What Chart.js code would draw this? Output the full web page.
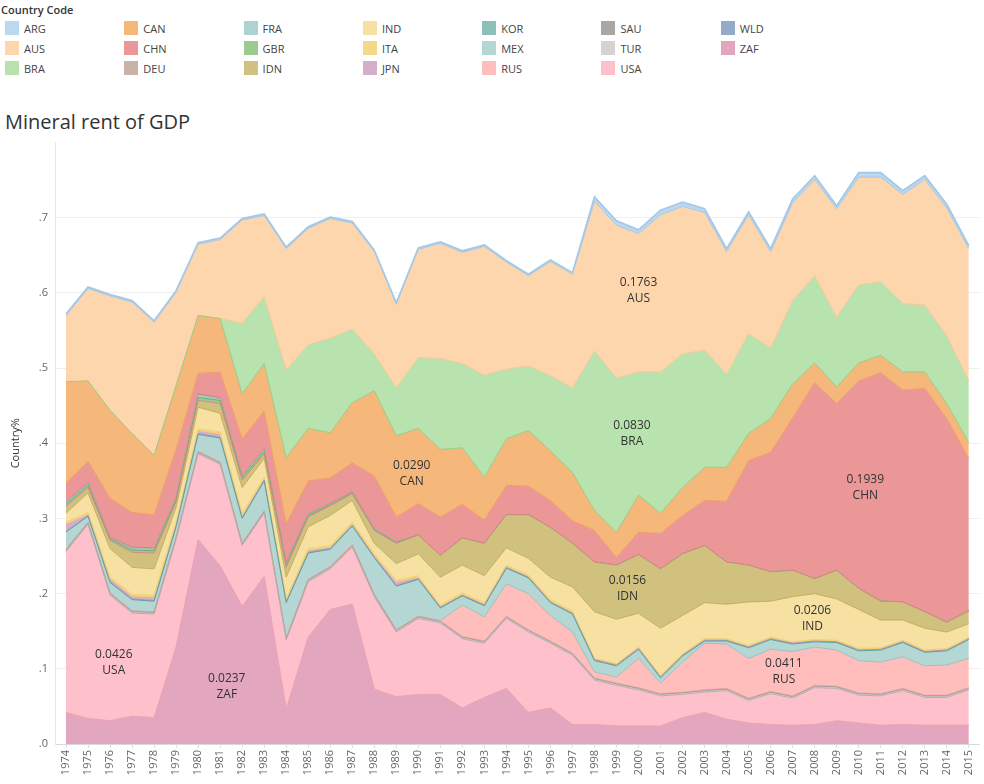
<!DOCTYPE html>
<html><head><meta charset="utf-8">
<script src="https://cdn.jsdelivr.net/npm/chart.js@4.4.1/dist/chart.umd.min.js"></script>
<style>
html,body{margin:0;padding:0;background:#fff;width:984px;height:784px;overflow:hidden;font-family:"Open Sans",sans-serif;}
#legendTitle{position:absolute;left:1px;top:2px;font-size:11px;color:#333;font-weight:600;}
#legend{position:absolute;left:5px;top:18px;display:grid;grid-template-rows:repeat(3,20px);grid-auto-flow:column;grid-auto-columns:119.3px;}
.item{display:flex;align-items:center;font-size:11px;color:#444;}
.sw{width:14px;height:14px;margin-right:5px;flex:none;}
#title{position:absolute;left:5px;top:108px;font-size:20px;color:#333;white-space:nowrap;}
#wrap{position:absolute;left:0;top:129px;width:984px;height:655px;}
</style></head><body>
<div id="legendTitle">Country Code</div>
<div id="legend"></div>
<div id="title">Mineral rent of GDP</div>
<div id="wrap"><canvas id="c" width="984" height="655"></canvas></div>
<script>
const years = ['1974','1975','1976','1977','1978','1979','1980','1981','1982','1983','1984','1985','1986','1987','1988','1989','1990','1991','1992','1993','1994','1995','1996','1997','1998','1999','2000','2001','2002','2003','2004','2005','2006','2007','2008','2009','2010','2011','2012','2013','2014','2015'];

const ZAF = [0.041,0.033,0.030,0.036,0.034,0.128,0.271,0.236,0.182,0.222,0.045,0.141,0.178,0.185,0.072,0.062,0.065,0.065,0.047,0.061,0.073,0.041,0.047,0.025,0.025,0.023,0.023,0.023,0.034,0.041,0.032,0.027,0.025,0.024,0.025,0.030,0.027,0.024,0.025,0.024,0.024,0.024];
const WLD = [0.001,0.001,0.001,0.001,0.001,0.001,0.001,0.001,0.001,0.001,0.001,0.001,0.001,0.001,0.001,0.001,0.001,0.001,0.001,0.001,0.001,0.001,0.001,0.001,0.001,0.001,0.001,0.001,0.001,0.001,0.001,0.001,0.001,0.001,0.001,0.001,0.001,0.001,0.001,0.001,0.001,0.001];
const USA = [0.214,0.258,0.167,0.137,0.138,0.143,0.114,0.135,0.081,0.084,0.092,0.074,0.054,0.076,0.123,0.086,0.101,0.095,0.092,0.072,0.093,0.107,0.086,0.092,0.059,0.054,0.048,0.040,0.031,0.027,0.038,0.030,0.041,0.036,0.049,0.043,0.037,0.039,0.045,0.037,0.037,0.047];
const TUR = [0.002,0.002,0.002,0.002,0.002,0.002,0.002,0.002,0.002,0.002,0.002,0.002,0.002,0.002,0.002,0.002,0.002,0.002,0.002,0.002,0.002,0.002,0.002,0.002,0.002,0.002,0.002,0.002,0.002,0.002,0.002,0.002,0.002,0.002,0.002,0.002,0.002,0.002,0.002,0.002,0.002,0.002];
const SAU = [0.001,0.001,0.001,0.001,0.001,0.001,0.001,0.001,0.001,0.001,0.001,0.001,0.001,0.001,0.001,0.001,0.001,0.001,0.001,0.001,0.001,0.001,0.001,0.001,0.001,0.001,0.001,0.001,0.001,0.001,0.001,0.001,0.001,0.001,0.001,0.001,0.001,0.001,0.001,0.001,0.001,0.001];
const RUS = [0,0,0,0,0,0,0,0,0,0,0,0,0,0,0,0,0,0,0.042,0.032,0.043,0.048,0.034,0.028,0.008,0.008,0.039,0.014,0.040,0.062,0.059,0.053,0.056,0.059,0.051,0.048,0.043,0.042,0.042,0.039,0.040,0.039];
const MEX = [0.023,0.008,0.014,0.015,0.014,0.014,0.023,0.032,0.033,0.040,0.047,0.035,0.023,0.025,0.049,0.058,0.049,0.017,0.012,0.015,0.021,0.021,0.017,0.024,0.015,0.015,0.012,0.007,0.008,0.003,0.004,0.014,0.013,0.010,0.007,0.010,0.013,0.016,0.019,0.018,0.019,0.025];
const KOR = [0.001,0.001,0.001,0.001,0.001,0.001,0.001,0.001,0.001,0.001,0.001,0.001,0.001,0.001,0.001,0.001,0.001,0.001,0.001,0.001,0.001,0.001,0.001,0.001,0.001,0.001,0.001,0.001,0.001,0.001,0.001,0.001,0.001,0.001,0.001,0.001,0.001,0.001,0.001,0.001,0.001,0.001];
const JPN = [0.010,0.002,0.004,0.004,0.005,0.003,0.004,0.005,0.003,0.002,0.002,0.003,0.002,0.002,0.002,0.005,0.002,0.001,0.001,0.001,0.001,0.001,0.001,0.001,0.001,0.001,0.001,0.001,0.001,0.001,0.001,0.001,0.001,0.001,0.001,0.001,0.001,0.001,0.001,0.001,0.001,0.001];
const ITA = [0.002,0.002,0.002,0.002,0.002,0.002,0.002,0.002,0.002,0.002,0.002,0.002,0.002,0.002,0.002,0.002,0.002,0.002,0.002,0.002,0.002,0.002,0.002,0.002,0.001,0.001,0.001,0.001,0.001,0.001,0.001,0.001,0.001,0.001,0.001,0.001,0.001,0.001,0.001,0.001,0.001,0.001];
const IND = [0.012,0.026,0.038,0.036,0.035,0.020,0.029,0.025,0.035,0.025,0.029,0.029,0.040,0.029,0.014,0.022,0.029,0.037,0.037,0.036,0.023,0.022,0.030,0.032,0.062,0.059,0.045,0.063,0.051,0.048,0.046,0.058,0.048,0.060,0.061,0.055,0.052,0.037,0.027,0.029,0.022,0.018];
const IDN = [0.009,0.007,0.011,0.020,0.021,0.007,0.009,0.013,0.010,0.006,0.013,0.013,0.013,0.009,0.017,0.027,0.025,0.029,0.036,0.043,0.044,0.058,0.066,0.058,0.066,0.072,0.078,0.079,0.082,0.076,0.056,0.049,0.039,0.035,0.020,0.038,0.028,0.025,0.024,0.022,0.013,0.017];
const GBR = [0.003,0.003,0.002,0.003,0.003,0.003,0.004,0.004,0.003,0.003,0.003,0.002,0.001,0.001,0.001,0.001,0,0,0,0,0,0,0,0,0,0,0,0,0,0,0,0,0,0,0,0,0,0,0,0,0,0];
const FRA = [0.002,0.002,0.001,0.002,0.002,0.002,0.003,0.002,0.002,0.002,0.002,0.001,0.001,0.001,0.001,0.001,0,0,0,0,0,0,0,0,0,0,0,0,0,0,0,0,0,0,0,0,0,0,0,0,0,0];
const DEU = [0.001,0.002,0.001,0.002,0.002,0.001,0.002,0.002,0.001,0.002,0.002,0.001,0.001,0.001,0,0,0,0,0,0,0,0,0,0,0,0,0,0,0,0,0,0,0,0,0,0,0,0,0,0,0,0];
const CHN = [0.025,0.028,0.052,0.046,0.044,0.064,0.027,0.034,0.049,0.050,0.051,0.044,0.034,0.038,0.071,0.033,0.042,0.051,0.045,0.031,0.039,0.038,0.036,0.030,0.042,0.010,0.030,0.047,0.051,0.060,0.081,0.139,0.159,0.203,0.261,0.222,0.276,0.304,0.282,0.297,0.271,0.203];
const CAN = [0.135,0.107,0.117,0.105,0.079,0.085,0.077,0.071,0.060,0.063,0.088,0.070,0.060,0.080,0.113,0.108,0.100,0.090,0.075,0.057,0.062,0.074,0.066,0.064,0.027,0.034,0.049,0.027,0.037,0.044,0.045,0.036,0.045,0.045,0.026,0.022,0.024,0.023,0.024,0.022,0.020,0.021];
const BRA = [0,0,0,0,0,0,0,0,0.094,0.089,0.117,0.111,0.126,0.098,0.049,0.064,0.094,0.121,0.112,0.136,0.093,0.086,0.100,0.113,0.212,0.205,0.164,0.188,0.178,0.156,0.124,0.133,0.094,0.111,0.116,0.093,0.104,0.098,0.091,0.089,0.090,0.082];
const AUS = [0.088,0.123,0.152,0.175,0.177,0.124,0.095,0.105,0.137,0.108,0.161,0.155,0.159,0.141,0.136,0.111,0.144,0.153,0.148,0.171,0.142,0.120,0.152,0.151,0.199,0.203,0.184,0.209,0.196,0.183,0.163,0.158,0.128,0.130,0.128,0.144,0.143,0.139,0.145,0.167,0.170,0.176];
const ARG = [0.002,0.002,0.002,0.002,0.002,0.002,0.002,0.002,0.002,0.002,0.002,0.002,0.002,0.002,0.002,0.002,0.002,0.002,0.002,0.002,0.002,0.002,0.002,0.002,0.006,0.006,0.005,0.006,0.006,0.005,0.004,0.004,0.004,0.005,0.005,0.004,0.006,0.006,0.005,0.005,0.005,0.004];

// stacking order, bottom to top
const stackOrder = ['ZAF','WLD','USA','TUR','SAU','RUS','MEX','KOR','JPN','ITA','IND','IDN','GBR','FRA','DEU','CHN','CAN','BRA','AUS','ARG'];
const seriesData = {ZAF,WLD,USA,TUR,SAU,RUS,MEX,KOR,JPN,ITA,IND,IDN,GBR,FRA,DEU,CHN,CAN,BRA,AUS,ARG};
const legendOrder = ['ARG','AUS','BRA','CAN','CHN','DEU','FRA','GBR','IDN','IND','ITA','JPN','KOR','MEX','RUS','SAU','TUR','USA','WLD','ZAF'];

const fillColors = {
  ARG:'#bcd8ee', AUS:'#fed6ae', BRA:'#b8e2ae', CAN:'#f5b77a', CHN:'#eb9697',
  DEU:'#c9b2a6', FRA:'#acd3cf', GBR:'#9ccb92', IDN:'#d1c17f', IND:'#f6e0a2',
  ITA:'#f4d98a', JPN:'#d6aecb', KOR:'#8dbfbb', MEX:'#b4d7d3', RUS:'#ffbdbc',
  SAU:'#aaa6a4', TUR:'#d8d3d1', USA:'#fec0cb', WLD:'#93abc9', ZAF:'#e2a6bf'
};
// colour of the outline drawn along the top edge of each band
const edgeColors = {
  ZAF:'#f0a0b4', WLD:'#f0a0b4', USA:'#b5aeab', TUR:'#a39d9a', SAU:'#f5a3a3',
  RUS:'#93c4c0', MEX:'#5e9f9b', KOR:'#c592b8', JPN:'#f0d264', ITA:'#efd078',
  IND:'#c2ad5a', IDN:'#d98585', GBR:'#6faa65', FRA:'#8fc0bb', DEU:'#e07a7a',
  CHN:'#f0a060', CAN:'#93cf85', BRA:'#f9c896', AUS:'#a3c8e6', ARG:'#a3c8e6'
};

// label annotations (data space: category index, value)
const markLabelNames = ['USA','ZAF','AUS','BRA','CAN','CHN','IDN','IND','RUS'];
const markLabelTexts = ['0.0426','0.0237','0.1763','0.0830','0.0290','0.1939','0.0156','0.0206','0.0411'];
const markLabelIdx = [2.17,7.3,26.0,25.7,15.7,36.3,25.5,33.9,32.6];
const markLabelVal = [0.108,0.077,0.603,0.413,0.360,0.341,0.207,0.167,0.097];

const FONT = '"Open Sans", sans-serif';

// legend
const lg = document.getElementById('legend');
legendOrder.forEach(k => {
  const d = document.createElement('div'); d.className = 'item';
  const s = document.createElement('span'); s.className = 'sw'; s.style.background = fillColors[k];
  d.appendChild(s); d.appendChild(document.createTextNode(k)); lg.appendChild(d);
});

const datasets = stackOrder.map((k, i) => ({
  label: k,
  data: seriesData[k],
  backgroundColor: fillColors[k],
  borderColor: edgeColors[k],
  borderWidth: k === 'ARG' ? 1.6 : 1,
  fill: i === 0 ? 'origin' : '-1',
  pointRadius: 0,
  tension: 0
}));

const labelPlugin = {
  id: 'markLabels',
  afterDatasetsDraw(chart) {
    const {ctx, scales} = chart;
    ctx.save();
    ctx.font = '12px ' + FONT;
    ctx.fillStyle = '#333';
    ctx.textAlign = 'center';
    ctx.textBaseline = 'middle';
    markLabelNames.forEach((n, i) => {
      const x = scales.x.getPixelForValue(markLabelIdx[i]);
      const y = scales.y.getPixelForValue(markLabelVal[i]);
      ctx.fillText(markLabelTexts[i], x, y - 8);
      ctx.fillText(n, x, y + 8);
    });
    ctx.restore();
  }
};

const isTop = v => Math.abs(v - 0.8) < 1e-6;

new Chart(document.getElementById('c'), {
  type: 'line',
  data: {labels: years, datasets},
  options: {
    responsive: false, animation: false, devicePixelRatio: 1,
    layout: {padding: {top: 6, right: 0, left: 0, bottom: 0}},
    plugins: {legend: {display: false}, tooltip: {enabled: false}},
    scales: {
      x: {
        offset: true,
        grid: {display: true, drawOnChartArea: false, tickLength: 4, color: '#e0e0e0'},
        border: {color: '#d9d9d9'},
        ticks: {minRotation: 90, maxRotation: 90, autoSkip: false, font: {size: 11, family: FONT}, color: '#666', padding: 2},
        afterFit(s) { s.height = 40; }
      },
      y: {
        stacked: true, min: 0, max: 0.8,
        ticks: {stepSize: 0.1, font: {size: 11, family: FONT}, color: '#666', padding: 7,
          callback: v => isTop(v) ? '' : v.toFixed(1).replace(/^0/, '')},
        grid: {drawTicks: false, color: c => (c.tick && isTop(c.tick.value)) ? 'rgba(0,0,0,0)' : '#efefef'},
        border: {color: '#e6e6e6'},
        title: {display: true, text: 'Country%', color: '#333', font: {size: 11, family: FONT}, padding: {top: 9, bottom: 0}},
        afterFit(s) { s.width = 55; }
      }
    }
  },
  plugins: [labelPlugin]
});
</script>
</body></html>
